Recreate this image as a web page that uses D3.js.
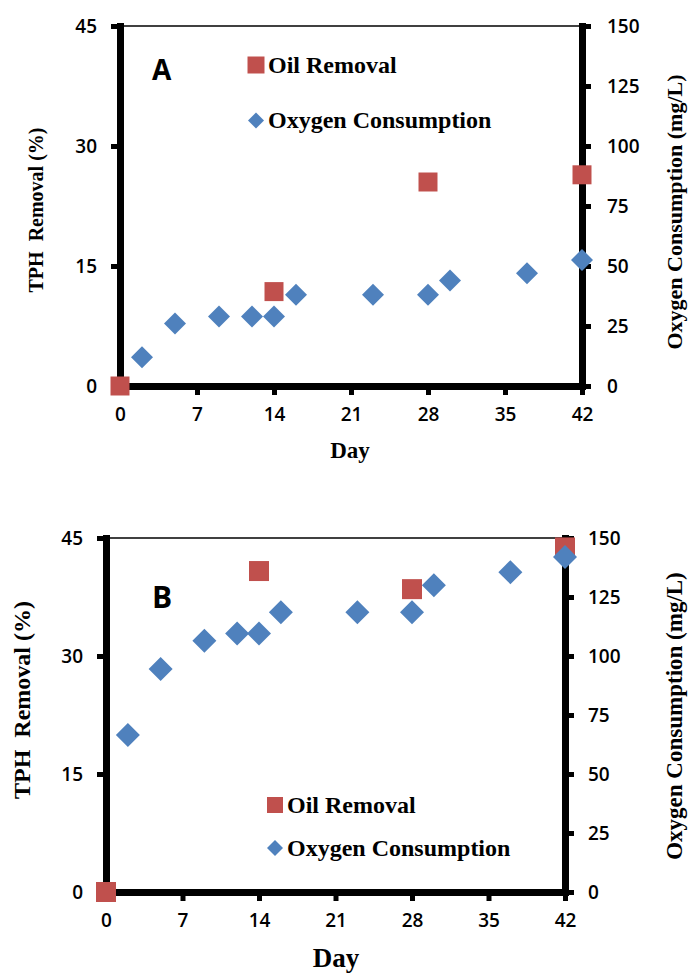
<!DOCTYPE html>
<html lang="en">
<head>
    <meta charset="UTF-8">
    <title>TPH removal and oxygen consumption</title>
    <style>
        body {
            margin: 0;
            background: #fff;
        }

        .tick text {
            font-family: "Open Sans", "DejaVu Sans", sans-serif;
            font-weight: 600;
            fill: #000;
        }

        .title {
            font-family: "Liberation Serif", "Times New Roman", serif;
            font-weight: bold;
            fill: #000;
        }

        .panel-tag {
            font-family: "Open Sans", "DejaVu Sans", sans-serif;
            font-weight: bold;
            fill: #000;
        }
    </style>
</head>
<body>
<div id="chart"></div>
<script src="https://d3js.org/d3.v7.min.js"></script>
<script>

    // values
    var dayTicks = [0, 7, 14, 21, 28, 35, 42]
    var leftTicks = [0, 15, 30, 45]
    var rightTicks = [0, 25, 50, 75, 100, 125, 150]

    var oilDays = [0, 14, 28, 42]
    var oilA = [0, 11.8, 25.5, 26.4]
    var oilB = [0, 40.8, 38.5, 43.8]

    var o2Days = [2, 5, 9, 12, 14, 16, 23, 28, 30, 37, 42]
    var o2A = [12, 26, 29, 29, 29, 38, 38, 38, 44, 47, 52.5]
    var o2B = [66.5, 94.5, 106.5, 109.5, 109.5, 118.5, 118.5, 118.5, 130, 135.5, 142]

    var red = "#C0504D"
    var blue = "#4F81BD"

    var svg = d3.select("#chart").append("svg")
        .attr("width", 690)
        .attr("height", 974)

    // panel layout
    var panels = [
        {
            tag: "A", oil: oilA, o2: o2A,
            left: 120, right: 582, top: 26, bottom: 386,
            tickFont: 19, leftPad: 14, rightPad: 16, bottomPad: 13,
            sq: 19, dia: 22,
            tagX: 152, tagY: 80, tagSize: 28,
            legX: 256, legY1: 65, legY2: 120.5, legFont: 24, legSq: 17, legDia: 16,
            dayY: 458, daySize: 23, dayX: 350,
            lTitleX: 43, lTitleY: 210, lTitleSize: 20,
            rTitleX: 682, rTitleY: 212, rTitleSize: 22
        },
        {
            tag: "B", oil: oilB, o2: o2B,
            left: 106, right: 565, top: 538, bottom: 892,
            tickFont: 19, leftPad: 14, rightPad: 14, bottomPad: 13,
            sq: 20, dia: 24,
            tagX: 152, tagY: 608, tagSize: 30,
            legX: 275, legY1: 805, legY2: 848, legFont: 24, legSq: 16, legDia: 16,
            dayY: 967, daySize: 27, dayX: 336,
            lTitleX: 30, lTitleY: 700, lTitleSize: 24,
            rTitleX: 682, rTitleY: 716, rTitleSize: 23
        }
    ]

    panels.forEach(drawPanel)

    function drawPanel(p) {
        var x = d3.scaleLinear().domain([0, 42]).range([p.left, p.right])
        var yL = d3.scaleLinear().domain([0, 45]).range([p.bottom, p.top])
        var yR = d3.scaleLinear().domain([0, 150]).range([p.bottom, p.top])

        var g = svg.append("g")

        // thin top border
        g.append("line")
            .attr("x1", p.left).attr("x2", p.right)
            .attr("y1", p.top).attr("y2", p.top)
            .attr("stroke", "#000")
            .attr("stroke-width", 1.5)

        var xAxis = g.append("g")
            .attr("transform", "translate(0," + p.bottom + ")")
            .call(d3.axisBottom(x).tickValues(dayTicks).tickSizeInner(9).tickSizeOuter(0).tickPadding(p.bottomPad))

        var lAxis = g.append("g")
            .attr("transform", "translate(" + p.left + ",0)")
            .call(d3.axisLeft(yL).tickValues(leftTicks).tickSizeInner(9).tickSizeOuter(0).tickPadding(p.leftPad))

        var rAxis = g.append("g")
            .attr("transform", "translate(" + p.right + ",0)")
            .call(d3.axisRight(yR).tickValues(rightTicks).tickSizeInner(9).tickSizeOuter(0).tickPadding(p.rightPad))

        ;[xAxis, lAxis, rAxis].forEach(function (a) {
            a.select(".domain")
                .attr("stroke", "#000")
                .attr("stroke-width", 7)
                .attr("stroke-linecap", "square")
            a.selectAll(".tick line")
                .attr("stroke", "#000")
                .attr("stroke-width", 5)
            a.selectAll(".tick text")
                .style("font-size", p.tickFont + "px")
        })

        // oil removal squares (left axis), oxygen diamonds (right axis) on top
        var sq = d3.symbol().type(d3.symbolSquare).size(p.sq * p.sq)
        g.append("g").selectAll("path")
            .data(oilDays.map(function (d, i) { return [d, p.oil[i]] }))
            .join("path")
            .attr("d", sq)
            .attr("fill", red)
            .attr("transform", function (d) { return "translate(" + x(d[0]) + "," + yL(d[1]) + ")" })

        var side = p.dia / Math.SQRT2
        var dia = d3.symbol().type(d3.symbolSquare).size(side * side)
        g.append("g").selectAll("path")
            .data(o2Days.map(function (d, i) { return [d, p.o2[i]] }))
            .join("path")
            .attr("d", dia)
            .attr("fill", blue)
            .attr("transform", function (d) { return "translate(" + x(d[0]) + "," + yR(d[1]) + ") rotate(45)" })

        // panel letter
        g.append("text")
            .attr("class", "panel-tag")
            .attr("x", p.tagX).attr("y", p.tagY)
            .style("font-size", p.tagSize + "px")
            .text(p.tag)

        // legend
        g.append("path")
            .attr("d", d3.symbol().type(d3.symbolSquare).size(p.legSq * p.legSq))
            .attr("fill", red)
            .attr("transform", "translate(" + p.legX + "," + p.legY1 + ")")
        g.append("text")
            .attr("class", "title")
            .attr("x", p.legX + 12).attr("y", p.legY1 + 8)
            .style("font-size", p.legFont + "px")
            .text("Oil Removal")

        var ls = p.legDia / Math.SQRT2
        g.append("path")
            .attr("d", d3.symbol().type(d3.symbolSquare).size(ls * ls))
            .attr("fill", blue)
            .attr("transform", "translate(" + p.legX + "," + p.legY2 + ") rotate(45)")
        g.append("text")
            .attr("class", "title")
            .attr("x", p.legX + 12).attr("y", p.legY2 + 7.5)
            .style("font-size", p.legFont + "px")
            .text("Oxygen Consumption")

        // axis titles
        g.append("text")
            .attr("class", "title")
            .attr("x", p.dayX).attr("y", p.dayY)
            .attr("text-anchor", "middle")
            .style("font-size", p.daySize + "px")
            .text("Day")

        g.append("text")
            .attr("class", "title")
            .attr("text-anchor", "middle")
            .attr("transform", "translate(" + p.lTitleX + "," + p.lTitleY + ") rotate(-90)")
            .style("font-size", p.lTitleSize + "px")
            .style("white-space", "pre")
            .text("TPH  Removal (%)")

        g.append("text")
            .attr("class", "title")
            .attr("text-anchor", "middle")
            .attr("transform", "translate(" + p.rTitleX + "," + p.rTitleY + ") rotate(-90)")
            .style("font-size", p.rTitleSize + "px")
            .text("Oxygen Consumption (mg/L)")
    }

</script>
</body>
</html>
